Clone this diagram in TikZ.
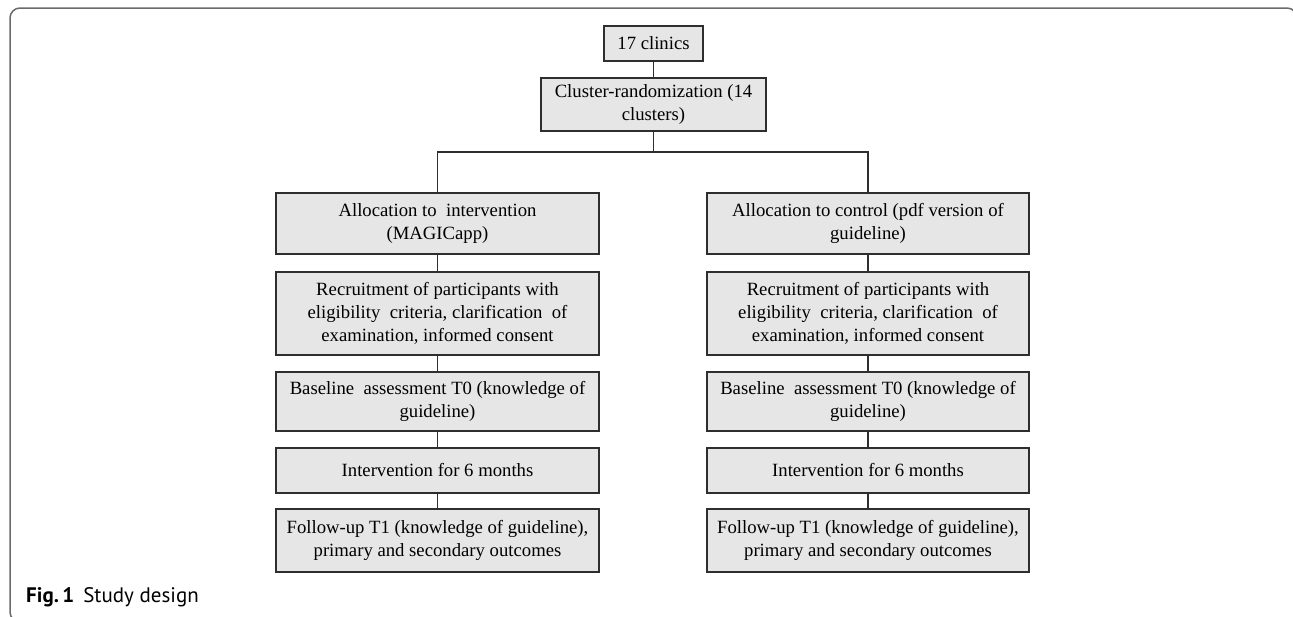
\documentclass[tikz,border=0pt]{standalone}
\usepackage{fontspec}
\setmainfont{Liberation Serif}
\newfontfamily\capfont{PT Sans}
\definecolor{boxfill}{HTML}{E6E6E6}
\definecolor{boxline}{HTML}{2E2E2E}
\definecolor{framecol}{HTML}{6A6A6A}
\begin{document}
\begin{tikzpicture}[x=1pt,y=-1pt,
  stepbox/.style={draw=boxline,fill=boxfill,line width=1.6pt,align=center,
    inner sep=0pt,font=\fontsize{18.7}{22.8}\selectfont},
  conn/.style={draw=boxline,line width=1.6pt}]
\useasboundingbox (0,0) rectangle (1293,616);
\begin{scope}
\clip (0,0) rectangle (1293,616);
\draw[framecol,line width=1.5pt,rounded corners=10pt] (10,8) rectangle (1297,622);
\end{scope}
% top
\node[stepbox,minimum width=99pt,minimum height=35pt] (clin) at (653.5,43.5) {17 clinics};
\node[stepbox,minimum width=225pt,minimum height=53pt] (clus) at (653.5,104.5) {Cluster-randomization (14\\clusters)};
% left column
\node[stepbox,minimum width=323pt,minimum height=61pt] (la) at (437.5,223.5) {Allocation to\ \ intervention\\(MAGICapp)};
\node[stepbox,minimum width=323pt,minimum height=83pt] (lr) at (437.5,313.5) {Recruitment of participants with\\eligibility\ \ criteria, clarification\ \ of\\examination, informed consent};
\node[stepbox,minimum width=323pt,minimum height=59pt] (lb) at (437.5,401.5) {Baseline\ \ assessment T0 (knowledge of\\guideline)};
\node[stepbox,minimum width=323pt,minimum height=45pt] (li) at (437.5,470.5) {Intervention for 6 months};
\node[stepbox,minimum width=323pt,minimum height=63pt] (lf) at (437.5,540.5) {Follow-up T1 (knowledge of guideline),\\primary and secondary outcomes};
% right column
\node[stepbox,minimum width=322pt,minimum height=61pt] (ra) at (868,223.5) {Allocation to control (pdf version of\\guideline)};
\node[stepbox,minimum width=322pt,minimum height=83pt] (rr) at (868,313.5) {Recruitment of participants with\\eligibility\ \ criteria, clarification\ \ of\\examination, informed consent};
\node[stepbox,minimum width=322pt,minimum height=59pt] (rb) at (868,401.5) {Baseline\ \ assessment T0 (knowledge of\\guideline)};
\node[stepbox,minimum width=322pt,minimum height=45pt] (ri) at (868,470.5) {Intervention for 6 months};
\node[stepbox,minimum width=322pt,minimum height=63pt] (rf) at (868,540.5) {Follow-up T1 (knowledge of guideline),\\primary and secondary outcomes};
% connectors
\coordinate (split) at (653.5,152);
\draw[conn] (clin) -- (clus);
\draw[conn] (clus) -- (split);
\draw[conn] (split) -| (la.north);
\draw[conn] (split) -| (ra.north);
\draw[conn] (la) -- (lr);
\draw[conn] (lr) -- (lb);
\draw[conn] (lb) -- (li);
\draw[conn] (li) -- (lf);
\draw[conn] (ra) -- (rr);
\draw[conn] (rr) -- (rb);
\draw[conn] (rb) -- (ri);
\draw[conn] (ri) -- (rf);
% caption
\node[anchor=base west,inner sep=0pt,font=\capfont\fontsize{21}{25}\selectfont] (cap) at (26,602) {\textbf{Fig.\,1}\hspace{9pt}Study design};
\end{tikzpicture}
\end{document}
